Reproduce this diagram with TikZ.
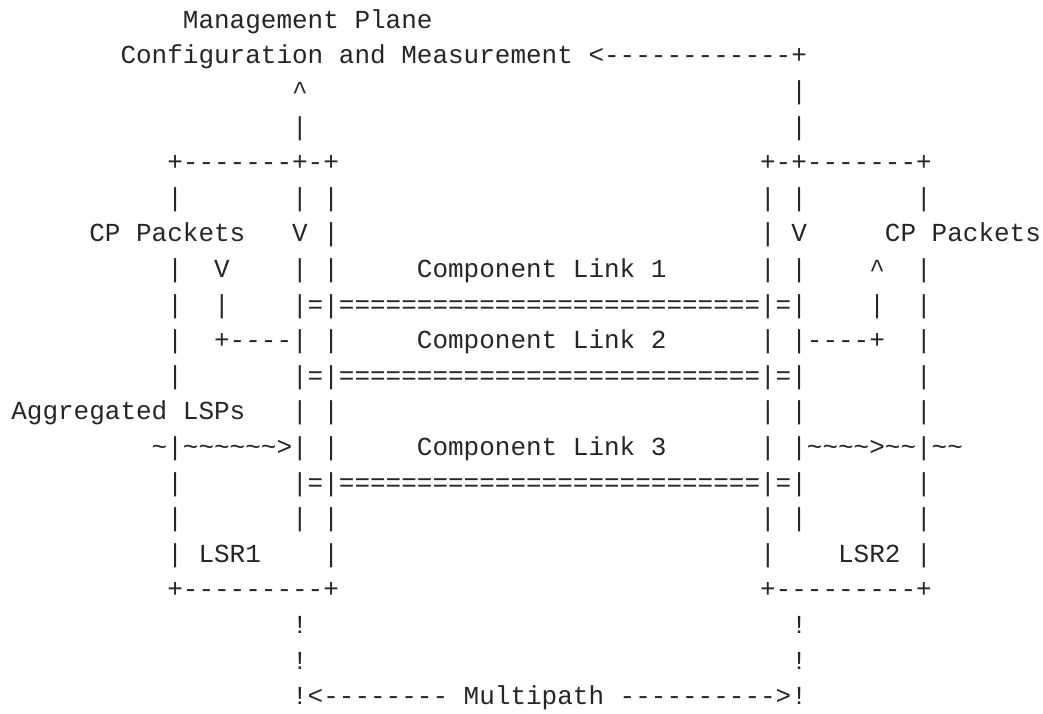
\documentclass[tikz,border=0pt]{standalone}
\usepackage{fontspec}
\setmonofont{Liberation Mono}
\definecolor{ink}{HTML}{262626}
\newcommand\tld{\textasciitilde}
\newcommand\crt{\textasciicircum}
\newcommand\R[3]{\node[txt] (t#2x#1) at ({11.3pt+#1*15.6pt},{713pt-28.3pt-#2*35.6pt}) {#3};}
\tikzset{txt/.style={anchor=base west,inner sep=0pt,outer sep=0pt,text=ink,font=\ttfamily\fontsize{26pt}{30pt}\selectfont}}
\begin{document}
\begin{tikzpicture}
\fill[white] (0,0) rectangle (1043pt,713pt);
\useasboundingbox (0,0) rectangle (1043pt,713pt);
% line 0-3
\R{11}{0}{Management}\R{22}{0}{Plane}
\R{7}{1}{Configuration}\R{21}{1}{and}\R{25}{1}{Measurement}\R{37}{1}{<------------+}
\R{18}{2}{\crt}\R{50}{2}{|}
\R{18}{3}{|}\R{50}{3}{|}
% line 4-6
\R{10}{4}{+-------+-+}\R{48}{4}{+-+-------+}
\R{10}{5}{|}\R{18}{5}{|}\R{20}{5}{|}\R{48}{5}{|}\R{50}{5}{|}\R{58}{5}{|}
\R{5}{6}{CP}\R{8}{6}{Packets}\R{18}{6}{V}\R{20}{6}{|}\R{48}{6}{|}\R{50}{6}{V}\R{56}{6}{CP}\R{59}{6}{Packets}
% line 7-10
\R{10}{7}{|}\R{13}{7}{V}\R{18}{7}{|}\R{20}{7}{|}\R{26}{7}{Component}\R{36}{7}{Link}\R{41}{7}{1}\R{48}{7}{|}\R{50}{7}{|}\R{55}{7}{\crt}\R{58}{7}{|}
\R{10}{8}{|}\R{13}{8}{|}\R{18}{8}{|=|===========================|=|}\R{55}{8}{|}\R{58}{8}{|}
\R{10}{9}{|}\R{13}{9}{+----|}\R{20}{9}{|}\R{26}{9}{Component}\R{36}{9}{Link}\R{41}{9}{2}\R{48}{9}{|}\R{50}{9}{|----+}\R{58}{9}{|}
\R{10}{10}{|}\R{18}{10}{|=|===========================|=|}\R{58}{10}{|}
% line 11-12
\R{0}{11}{Aggregated}\R{11}{11}{LSPs}\R{18}{11}{|}\R{20}{11}{|}\R{48}{11}{|}\R{50}{11}{|}\R{58}{11}{|}
\R{9}{12}{\tld|\tld\tld\tld\tld\tld\tld>|}\R{20}{12}{|}\R{26}{12}{Component}\R{36}{12}{Link}\R{41}{12}{3}\R{48}{12}{|}\R{50}{12}{|\tld\tld\tld\tld>\tld\tld|\tld\tld}
% line 13-16
\R{10}{13}{|}\R{18}{13}{|=|===========================|=|}\R{58}{13}{|}
\R{10}{14}{|}\R{18}{14}{|}\R{20}{14}{|}\R{48}{14}{|}\R{50}{14}{|}\R{58}{14}{|}
\R{10}{15}{|}\R{12}{15}{LSR1}\R{20}{15}{|}\R{48}{15}{|}\R{53}{15}{LSR2}\R{58}{15}{|}
\R{10}{16}{+---------+}\R{48}{16}{+---------+}
% line 17-19
\R{18}{17}{!}\R{50}{17}{!}
\R{18}{18}{!}\R{50}{18}{!}
\R{18}{19}{!<--------}\R{29}{19}{Multipath}\R{39}{19}{---------->!}
\end{tikzpicture}
\end{document}
